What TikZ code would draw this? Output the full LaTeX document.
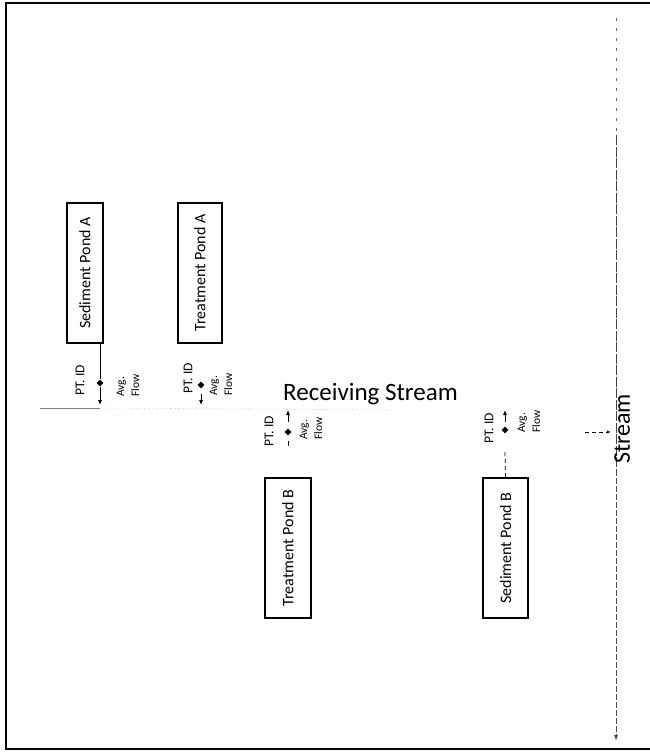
\documentclass[tikz,border=0pt]{standalone}
\usepackage{fontspec}
\setmainfont{Carlito}
\usetikzlibrary{shapes.geometric,arrows.meta}
\tikzset{
 pond/.style={draw, line width=1.1pt, rotate=90, minimum width=140pt, inner sep=0pt, font=\fontsize{16}{18}\selectfont},
 ptid/.style={rotate=90, font=\fontsize{13.5}{16}\selectfont, inner sep=0pt},
 avgflow/.style={rotate=90, align=left, anchor=west, font=\fontsize{11.5}{15}\selectfont, inner sep=0pt},
 gauge/.style={diamond, fill=black, inner sep=0pt, minimum size=7pt},
 flowline/.style={line width=0.8pt},
 tipline/.style={-{Latex[length=5pt,width=4pt]}, line width=0.8pt},
 faint/.style={gray!55, dotted, line width=0.6pt},
 streamline/.style={black!70, line width=0.9pt, dash pattern=on 6pt off 2pt},
 streamsparse/.style={black!60, line width=0.9pt, dash pattern=on 3pt off 7pt},
}
\begin{document}
\begin{tikzpicture}[x=1pt,y=-1pt]
\useasboundingbox (0,0) rectangle (650,753);
% frame
\draw[line width=2.4pt] (654,3) -- (6,3) -- (6,749) -- (654,749);

% ponds
\node[pond, minimum height=36pt] (sedA) at (85,273) {Sediment Pond A};
\node[pond, minimum height=44pt] (treA) at (200,273) {Treatment Pond A};
\node[pond, minimum height=46pt] (treB) at (288,548) {Treatment Pond B};
\node[pond, minimum height=45pt] (sedB) at (505.5,548) {Sediment Pond B};

% receiving stream
\node[anchor=base west, inner sep=0pt, font=\fontsize{25}{28}\selectfont] (recv) at (283,400) {Receiving Stream};
\coordinate (rL) at (40,408);
\coordinate (rA) at (100,408);
\coordinate (rR) at (395,410);
\draw[gray, line width=0.8pt] (rL) -- (rA);
\draw[faint] (rA) -- (rR);

% Sediment Pond A outfall
\coordinate (sAtop) at (100,343);
\node[gauge] (dSA) at (100,383) {};
\node[ptid] (pSA) at (80,380) {PT. ID};
\node[avgflow] (fSA) at (128,397) {Avg.\\Flow};
\draw[flowline] (sAtop) -- (dSA);
\draw[tipline] (dSA) -- (100,405);

% Treatment Pond A outfall
\node[gauge] (dTA) at (201,385) {};
\node[ptid] (pTA) at (188,378) {PT. ID};
\node[avgflow] (fTA) at (221,396) {Avg.\\Flow};
\coordinate (tAa) at (201,394);
\coordinate (tAb) at (201,405);
\draw[tipline] (tAa) -- (tAb);

% Treatment Pond B outfall
\node[gauge] (dTB) at (288,432) {};
\node[ptid] (pTB) at (269,431) {PT. ID};
\node[avgflow] (fTB) at (311,440) {Avg.\\Flow};
\coordinate (tBa) at (288,422);
\coordinate (tBb) at (288,410);
\coordinate (tBc) at (288,441);
\coordinate (tBd) at (288,446);
\draw[tipline] (tBa) -- (tBb);
\draw[flowline] (tBc) -- (tBd);

% Sediment Pond B outfall
\node[gauge] (dSB) at (505,430) {};
\node[ptid] (pSB) at (489,428) {PT. ID};
\node[avgflow] (fSB) at (529,433) {Avg.\\Flow};
\coordinate (sBa) at (505,422);
\coordinate (sBb) at (505,410);
\coordinate (sBc) at (505,452);
\draw[tipline] (sBa) -- (sBb);
\draw[flowline, dash pattern=on 4pt off 3pt] (sBc) -- (sedB.east);

% Stream
\coordinate (stTop) at (616,18);
\coordinate (stMid1) at (616,135);
\coordinate (stMid2) at (616,470);
\coordinate (stBot) at (616,741);
\draw[streamsparse] (stTop) -- (stMid1);
\draw[black!75, line width=0.9pt, dash pattern=on 10pt off 1.5pt] (stMid1) -- (stMid2);
\draw[streamline, -{Latex[length=6pt,width=4pt]}] (stMid2) -- (stBot);
\node[rotate=90, inner sep=0pt, font=\fontsize{24}{28}\selectfont, anchor=north west] (stream) at (614,464) {Stream};
\coordinate (arA) at (585,432);
\coordinate (arB) at (611,432);
\draw[flowline, dash pattern=on 4pt off 3pt, -{Latex[length=4pt,width=3pt]}] (arA) -- (arB);
\end{tikzpicture}
\end{document}
